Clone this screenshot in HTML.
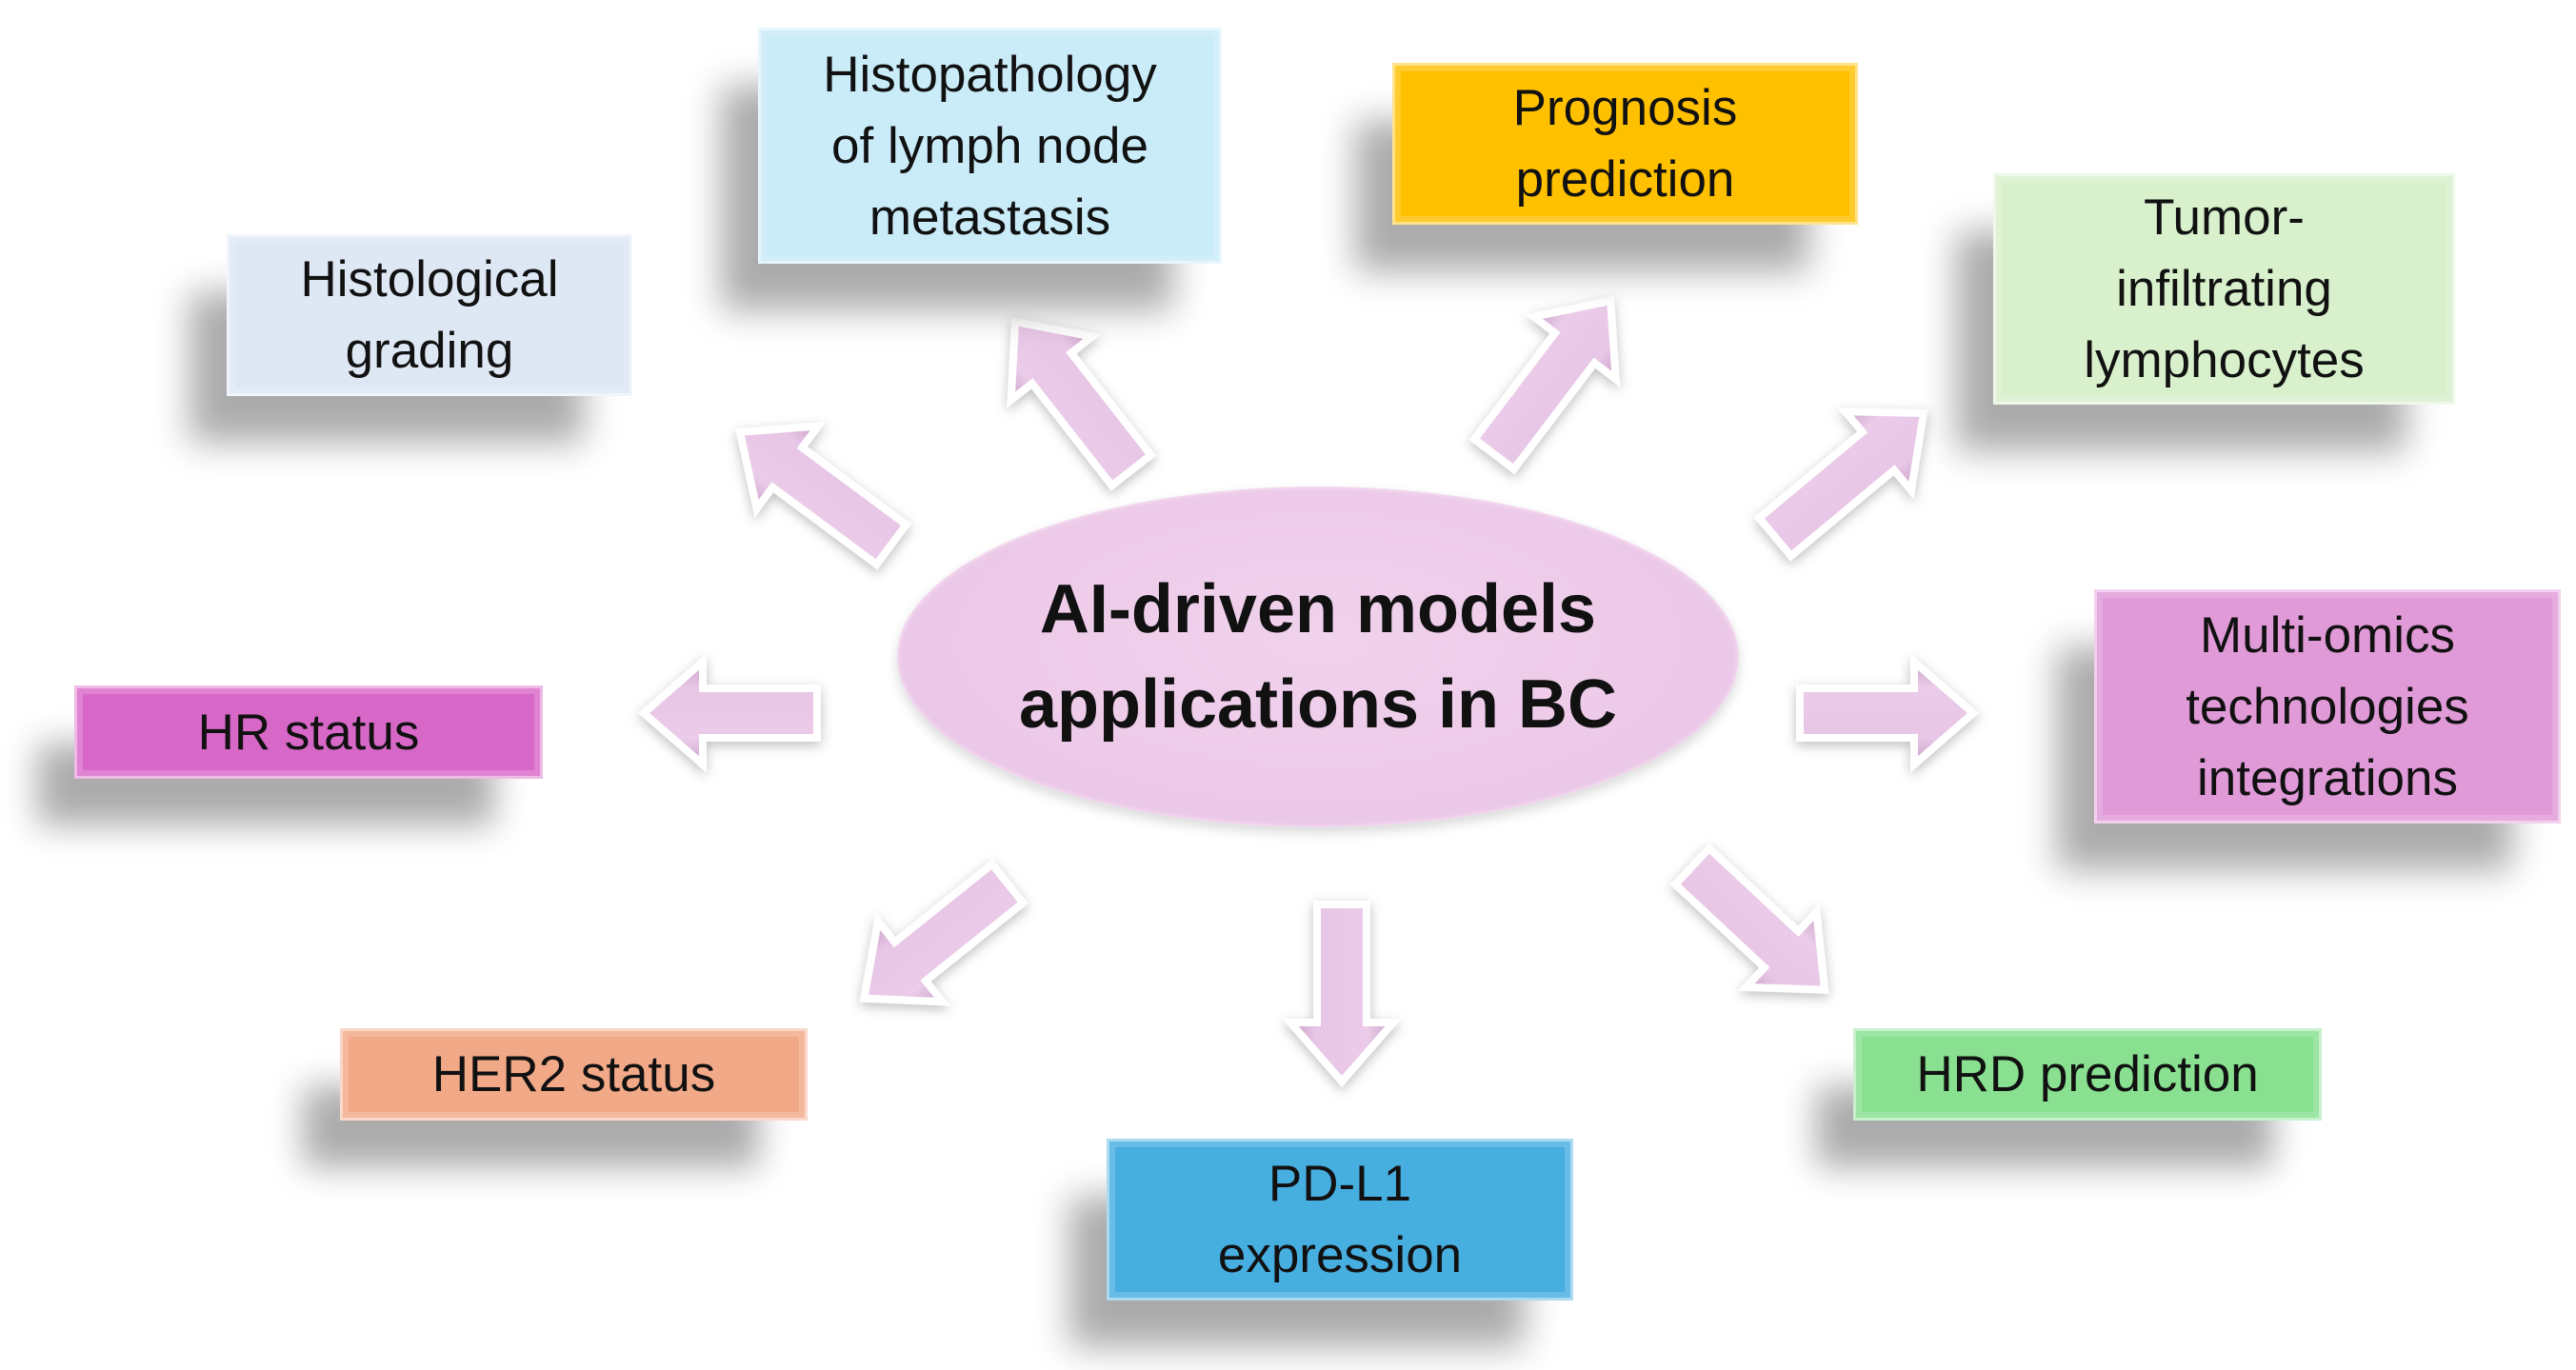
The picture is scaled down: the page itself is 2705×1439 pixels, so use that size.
<!DOCTYPE html>
<html><head><meta charset="utf-8">
<style>
html,body{margin:0;padding:0;background:#fff;}
body{width:2705px;height:1439px;position:relative;overflow:hidden;font-family:"Liberation Sans",sans-serif;}
.b{position:absolute;display:flex;align-items:center;justify-content:center;text-align:center;font-size:53px;line-height:75px;color:#111;box-sizing:border-box;border:3px solid rgba(255,255,255,0.55);box-shadow:inset 0 0 0 6px rgba(255,255,255,0.18),-45px 55px 35px -6px rgba(0,0,0,0.33);}
svg{position:absolute;left:0;top:0;}
.c{position:absolute;left:942px;top:511px;width:884px;height:358px;border-radius:50%;display:flex;align-items:center;justify-content:center;text-align:center;font-weight:bold;font-size:72px;line-height:100px;color:#111;background:radial-gradient(ellipse at 50% 45%,#f0d2ec 0%,#ecc8e8 70%,#e2b4dc 100%);box-shadow:0 6px 12px rgba(0,0,0,0.15),inset 0 0 6px rgba(255,255,255,0.7);}
</style></head><body>
<svg width="2705" height="1439" viewBox="0 0 2705 1439">
<defs>
<linearGradient id="g" x1="0" y1="0" x2="0" y2="1">
<stop offset="0" stop-color="#c9a3c8"/><stop offset="0.25" stop-color="#eacbe8"/><stop offset="0.75" stop-color="#e8c6e6"/><stop offset="1" stop-color="#c8a0c6"/>
</linearGradient>
<filter id="s" x="-30%" y="-30%" width="160%" height="160%"><feDropShadow dx="0" dy="4" stdDeviation="6" flood-color="#000" flood-opacity="0.25"/></filter>
<polygon id="a" points="0,-27 -62,-27 -62,-55 0,0 -62,55 -62,27 0,27" />
</defs>
<g fill="url(#g)" stroke="#fff" stroke-width="8" stroke-linejoin="miter" filter="url(#s)">
<!-- arrow shapes: tail at origin pointing +x, length L -->
<g transform="translate(936,572) rotate(216.6)"><polygon points="0,-26 136,-26 136,-54 198,0 136,54 136,26 0,26"/></g>
<g transform="translate(1188,494) rotate(232)"><polygon points="0,-26 136,-26 136,-54 198,0 136,54 136,26 0,26"/></g>
<g transform="translate(1569,477) rotate(-52.8)"><polygon points="0,-26 140,-26 140,-54 202,0 140,54 140,26 0,26"/></g>
<g transform="translate(1864,564) rotate(-39.8)"><polygon points="0,-26 141,-26 141,-54 203,0 141,54 141,26 0,26"/></g>
<g transform="translate(1890,749) rotate(0)"><polygon points="0,-26 120,-26 120,-54 182,0 120,54 120,26 0,26"/></g>
<g transform="translate(1777,910) rotate(43)"><polygon points="0,-26 128,-26 128,-54 190,0 128,54 128,26 0,26"/></g>
<g transform="translate(1409,950) rotate(90)"><polygon points="0,-26 124,-26 124,-54 186,0 124,54 124,26 0,26"/></g>
<g transform="translate(1058,928) rotate(141.3)"><polygon points="0,-26 131,-26 131,-54 193,0 131,54 131,26 0,26"/></g>
<g transform="translate(858,749) rotate(180)"><polygon points="0,-26 120,-26 120,-54 182,0 120,54 120,26 0,26"/></g>
</g>
</svg>

<div class="b" style="left:238px;top:246px;width:426px;height:170px;background:#dde8f4;">Histological<br>grading</div>
<div class="b" style="left:796px;top:29px;width:487px;height:248px;background:#c9ecf8;">Histopathology<br>of lymph node<br>metastasis</div>
<div class="b" style="left:1462px;top:66px;width:489px;height:170px;background:#ffc000;">Prognosis<br>prediction</div>
<div class="b" style="left:2093px;top:182px;width:485px;height:243px;background:#d8f0cc;">Tumor-<br>infiltrating<br>lymphocytes</div>
<div class="b" style="left:2199px;top:619px;width:490px;height:246px;background:#e09ad8;">Multi-omics<br>technologies<br>integrations</div>
<div class="b" style="left:1946px;top:1080px;width:492px;height:97px;background:#88e090;">HRD prediction</div>
<div class="b" style="left:1162px;top:1196px;width:490px;height:170px;background:#47aee0;">PD-L1<br>expression</div>
<div class="b" style="left:357px;top:1080px;width:491px;height:97px;background:#f2a987;">HER2 status</div>
<div class="b" style="left:78px;top:720px;width:492px;height:98px;background:#d868c8;">HR status</div>

<div class="c">AI-driven models<br>applications in BC</div>
</body></html>
